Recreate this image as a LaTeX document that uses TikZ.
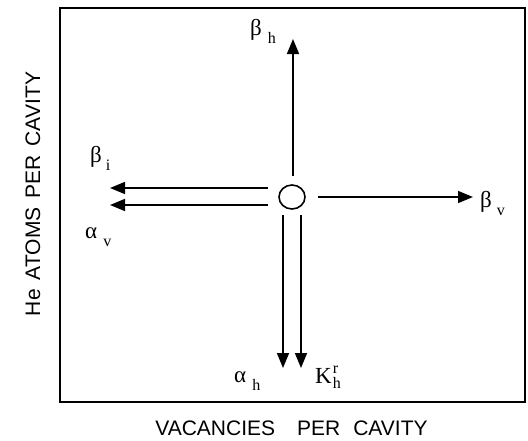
\documentclass[tikz,border=0pt]{standalone}
\usepackage{fontspec}
\setmainfont{Liberation Serif}
\newfontfamily\axisfont{Liberation Sans}
\usetikzlibrary{arrows.meta,shapes.geometric}
\newcommand{\symfont}{\fontsize{23}{23}\selectfont}
\newcommand{\subfont}{\fontsize{16}{16}\selectfont}
\newcommand{\slab}[3]{{\symfont #1}\hspace{#3}\raisebox{-8pt}{\subfont #2}}
\tikzset{
  frame/.style={line width=1.6pt},
  flux/.style={line width=1.6pt,-{Triangle[length=15pt,width=12pt]}},
  lab/.style={inner sep=0pt,anchor=base west},
  axis/.style={inner sep=0pt,font=\axisfont\fontsize{21}{21}\selectfont}
}
\begin{document}
\begin{tikzpicture}[x=1pt,y=-1pt]
\useasboundingbox (0,0) rectangle (528,440);
\draw[frame] (60,8) rectangle (525,402);
\node[draw,line width=1.6pt,ellipse,minimum width=26pt,minimum height=24pt,inner sep=0pt] (c) at (292,197) {};
% connector end points
\coordinate (u0) at (293,176); \coordinate (u1) at (293,39);
\coordinate (r0) at (318,197); \coordinate (r1) at (473,197);
\coordinate (l0a) at (268,188); \coordinate (l1a) at (110,188);
\coordinate (l0b) at (268,205); \coordinate (l1b) at (110,205);
\coordinate (d0a) at (283,215); \coordinate (d1a) at (283,368);
\coordinate (d0b) at (301,215); \coordinate (d1b) at (301,368);
\draw[flux] (u0) -- (u1);
\draw[flux] (r0) -- (r1);
\draw[flux] (l0a) -- (l1a);
\draw[flux] (l0b) -- (l1b);
\draw[flux] (d0a) -- (d1a);
\draw[flux] (d0b) -- (d1b);
% labels
\node[lab] (bh) at (250,35) {\slab{β}{h}{6pt}};
\node[lab] (bi) at (90,162) {\slab{β}{i}{4pt}};
\node[lab] (bv) at (480,207) {\slab{β}{v}{5pt}};
\node[lab] (av) at (85,238) {\slab{α}{v}{6pt}};
\node[lab] (ah) at (234,382) {\slab{α}{h}{6pt}};
\node[lab] (kh) at (315,383) {{\symfont K}\hspace{1pt}\raisebox{-5pt}{\subfont h}\hspace{-8pt}\raisebox{10pt}{\subfont r}};
% axis titles
\node[axis,rotate=90] (yl) at (33,194) {He\hspace{9pt}ATOMS\hspace{9pt}PER\hspace{9pt}CAVITY};
\node[axis,anchor=base] (xl) at (291.5,435) {VACANCIES\hspace{22pt}PER\hspace{13pt}CAVITY};
\end{tikzpicture}
\end{document}
